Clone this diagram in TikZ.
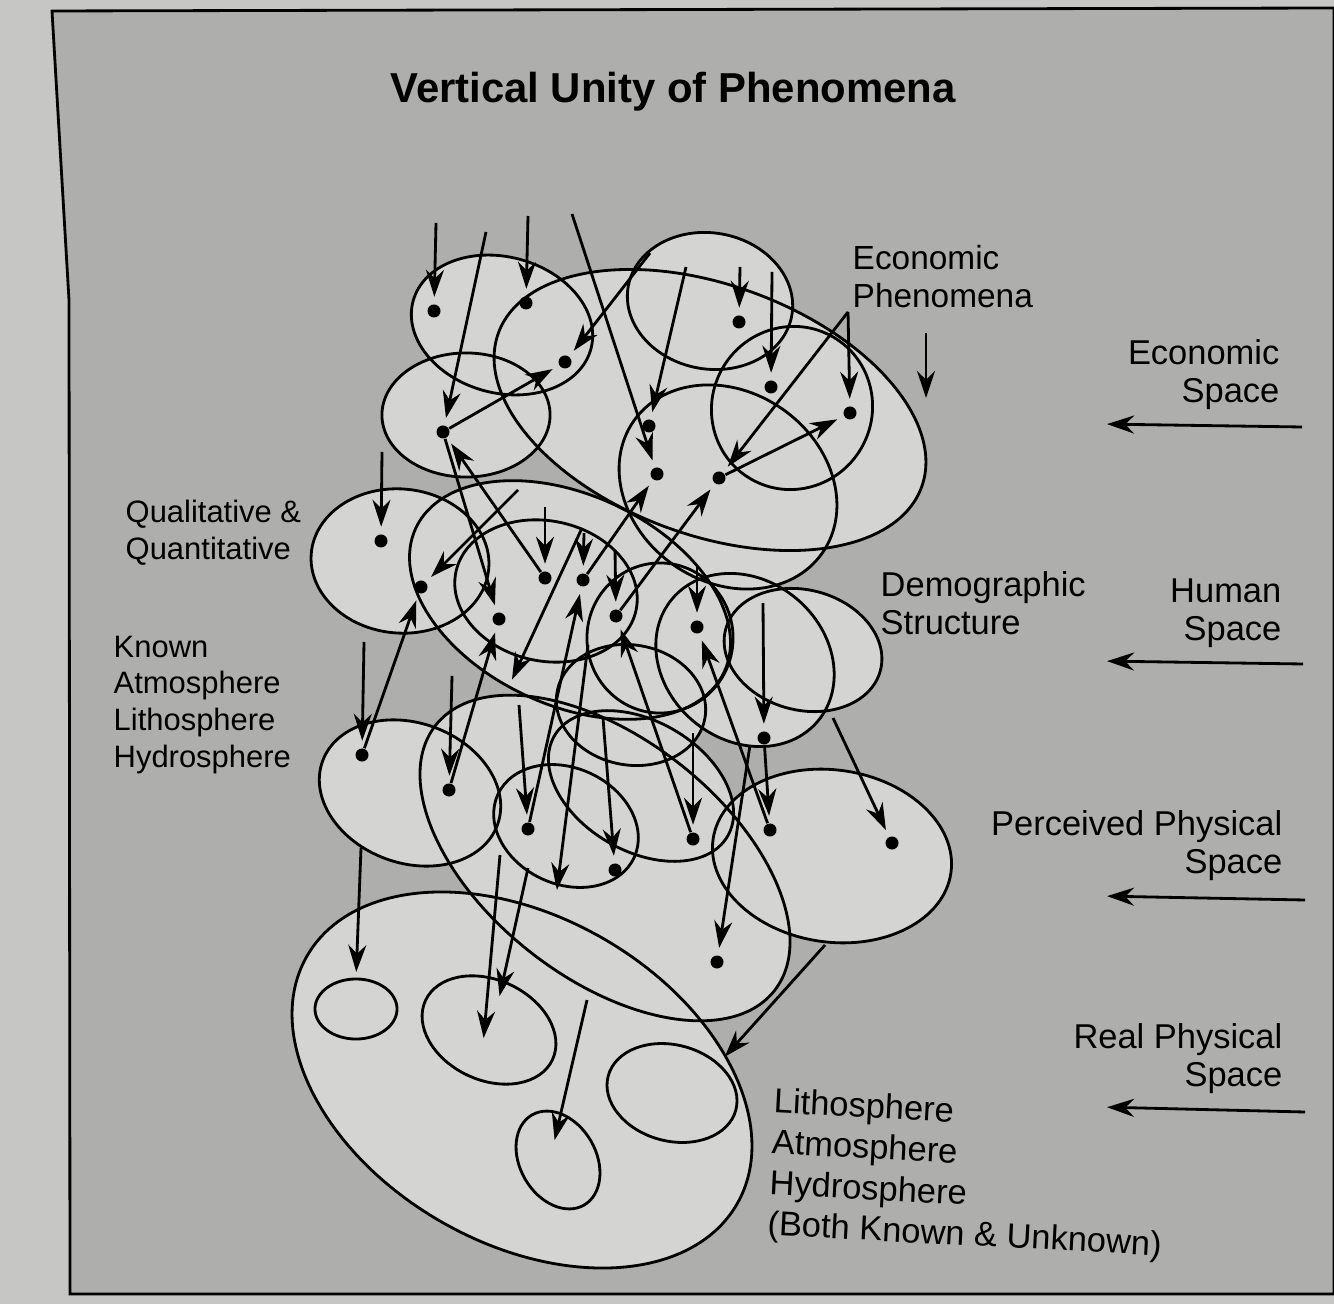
\documentclass[tikz,border=0pt]{standalone}
\usepackage{fontspec}
\setmainfont{Liberation Sans}
\usetikzlibrary{shapes.geometric, arrows.meta}
\definecolor{margin}{RGB}{198,198,196}
\definecolor{page}{RGB}{174,174,172}
\definecolor{paper}{RGB}{212,212,210}

% name/x/y/half width/half height/rotation of every ring
\newcommand\blobs{%
  ea/502/325/92/68/-15, eb/466/415/84/62/0, ec/710/410/225/125/-20,
  ed/710/301/83/68/-10, ee/792/408/80/82/-30, ef/728/487/115/95/-35,
  ha/400/561/89/72/-5, hb/570/600/170/105/-25, hc/546/591/92/70/-12,
  hd/660/638/73/75/0, he/631/705/75/60/-10, hf/803/650/80/60/-15,
  hg/745/660/95/80/-40,
  pa/410/793/93/70/-20, pb/605/858/215/120/-38, pc/566/826/75/58/-25,
  pd/641/786/100/65/-30, pe/832/856/120/86/-8,
  ra/522/1080/248/163/-30, rb/356/1009/41/30/0, rc/489/1030/70/50/-25,
  rd/558/1160/52/38/-60, re/672/1093/66/48/-15}

\begin{document}
\begin{tikzpicture}[
  x=0.01cm, y=-0.01cm,
  every node/.style={font=\fontsize{9.8}{10.8}\selectfont},
  blob/.style={ellipse, draw=black, line width=0.8pt, inner sep=0pt, outer sep=0pt},
  blobfill/.style={ellipse, fill=paper, inner sep=0pt},
  dot/.style={circle, fill=black, inner sep=0pt, minimum size=1.3mm},
  arrow/.style={-{Stealth[length=2.7mm, width=1.8mm]}, line width=0.8pt, shorten >=2pt},
  lbl/.style={align=left, inner sep=0pt},
  small/.style={font=\fontsize{8.8}{10.5}\selectfont}
]
\useasboundingbox (0,0) rectangle (1334,1304);

% page
\fill[margin] (0,0) rectangle (1334,1304);
\draw[line width=0.8pt, fill=page] (52,11) -- (1334,8) -- (1334,1294) -- (70,1294) -- (69,300) -- cycle;

% Title
\node[font=\fontsize{11.9}{14}\selectfont\bfseries] (title) at (673,92) {Vertical Unity of Phenomena};

% Rings: fill first, then outlines
\foreach \n/\cx/\cy/\rx/\ry/\rot in \blobs
  \node[blobfill, minimum width=0.02cm*\rx, minimum height=0.02cm*\ry, rotate=\rot] (\n bg) at (\cx,\cy) {};
\foreach \n/\cx/\cy/\rx/\ry/\rot in \blobs
  \node[blob, minimum width=0.02cm*\rx, minimum height=0.02cm*\ry, rotate=\rot] (\n) at (\cx,\cy) {};

% Dots
\node[dot] (d1) at (434,311) {};
\node[dot] (d2) at (526,303) {};
\node[dot] (d3) at (565,362) {};
\node[dot] (d4) at (443,432) {};
\node[dot] (d5) at (739,322) {};
\node[dot] (d6) at (771,387) {};
\node[dot] (d7) at (850,413) {};
\node[dot] (d8) at (649,426) {};
\node[dot] (d9) at (657,474) {};
\node[dot] (d10) at (719,478) {};
\node[dot] (d11) at (381,541) {};
\node[dot] (d12) at (421,587) {};
\node[dot] (d13) at (499,619) {};
\node[dot] (d14) at (545,578) {};
\node[dot] (d15) at (583,580) {};
\node[dot] (d16) at (616,616) {};
\node[dot] (d17) at (697,627) {};
\node[dot] (d18) at (764,738) {};
\node[dot] (d19) at (362,755) {};
\node[dot] (d20) at (449,790) {};
\node[dot] (d21) at (528,829) {};
\node[dot] (d22) at (615,870) {};
\node[dot] (d23) at (693,839) {};
\node[dot] (d24) at (770,830) {};
\node[dot] (d25) at (892,843) {};
\node[dot] (d26) at (717,962) {};

% Arrows, economic level
\draw[arrow] (436,223) coordinate (t1) -- (d1);
\draw[arrow] (486,232) coordinate (t2) -- (d4);
\draw[arrow] (528,216) coordinate (t3) -- (d2);
\draw[arrow] (572,214) coordinate (t4) -- (d9);
\draw[arrow] (650,253) coordinate (t5) -- (d3);
\draw[arrow] (686,267) coordinate (t6) -- (d8);
\draw[arrow] (740,267) coordinate (t7) -- (d5);
\draw[arrow] (772,272) coordinate (t8) -- (d6);
\draw[arrow] (848,312) coordinate (ptr) -- (d7);
\draw[arrow] (ptr) -- (d10);
\draw[arrow] (926,333) coordinate (t9) -- (926,405) coordinate (t10);
\draw[arrow] (d4) -- (d3);
\draw[arrow] (d10) -- (d7);

% Arrows, human level
\draw[arrow] (382,452) coordinate (u1) -- (d11);
\draw[arrow] (518,490) coordinate (u2) -- (d12);
\draw[arrow] (545,507) coordinate (u3) -- (d14);
\draw[arrow] (584,533) coordinate (u4) -- (d15);
\draw[arrow] (582,528) coordinate (u5) -- (509,686) coordinate (u6);
\draw[arrow] (615,550) coordinate (u7) -- (d16);
\draw[arrow] (697,565) coordinate (u8) -- (d17);
\draw[arrow] (763,603) coordinate (u9) -- (d18);
\draw[arrow] (d14) -- (d4);
\draw[arrow] (d4) -- (d13);
\draw[arrow] (d15) -- (d9);
\draw[arrow] (d16) -- (d10);

% Arrows, perceived physical level
\draw[arrow] (364,642) coordinate (v1) -- (d19);
\draw[arrow] (452,676) coordinate (v2) -- (d20);
\draw[arrow] (519,705) coordinate (v3) -- (d21);
\draw[arrow] (603,718) coordinate (v4) -- (d22);
\draw[arrow] (693,733) coordinate (v5) -- (d23);
\draw[arrow] (833,718) coordinate (v6) -- (d25);
\draw[arrow] (750,745) coordinate (v7) -- (d26);
\draw[arrow] (d19) -- (d12);
\draw[arrow] (d20) -- (d13);
\draw[arrow] (d21) -- (d15);
\draw[arrow] (d23) -- (d16);
\draw[arrow] (d24) -- (d17);
\draw[arrow] (d18) -- (d24);

% Arrows, real physical level
\draw[arrow] (588,645) coordinate (w1) -- (556,897) coordinate (w2);
\draw[arrow] (361,848) coordinate (w3) -- (rb.north);
\draw[arrow] (500,855) coordinate (w4) -- (483,1045) coordinate (w5);
\draw[arrow] (528,868) coordinate (w6) -- (498,1003) coordinate (w7);
\draw[arrow] (587,1000) coordinate (w8) -- (553,1147) coordinate (w9);
\draw[arrow] (825,945) coordinate (w10) -- (720,1062) coordinate (w11);

% Labels
\node[lbl, anchor=west, font=\fontsize{9.5}{10.8}\selectfont] (econph) at (852,277) {Economic\\Phenomena};
\node[lbl, anchor=west] (demo) at (880,603) {Demographic\\Structure};
\node[lbl, small, anchor=west] (qual) at (125,533) {Qualitative \&\\Quantitative};
\node[lbl, small, anchor=west] (known) at (113,705) {Known\\Atmosphere\\Lithosphere\\Hydrosphere};
\node[lbl, anchor=west, rotate=-3, font=\fontsize{9.8}{11.6}\selectfont] (spheres) at (770,1165) {Lithosphere\\Atmosphere\\Hydrosphere\\(Both Known \& Unknown)};

% Spaces
\node[lbl, anchor=east, align=right] (econsp) at (1280,375) {Economic\\Space};
\node[lbl, anchor=east, align=right] (humsp) at (1282,613) {Human\\Space};
\node[lbl, anchor=east, align=right] (percsp) at (1283,846) {Perceived Physical\\Space};
\node[lbl, anchor=east, align=right] (realsp) at (1283,1059) {Real Physical\\Space};
\draw[arrow] (1302,427) coordinate (s1) -- (1100,424) coordinate (s2);
\draw[arrow] (1303,664) coordinate (s3) -- (1100,661) coordinate (s4);
\draw[arrow] (1305,900) coordinate (s5) -- (1100,896) coordinate (s6);
\draw[arrow] (1305,1112) coordinate (s7) -- (1100,1107) coordinate (s8);

\end{tikzpicture}
\end{document}
